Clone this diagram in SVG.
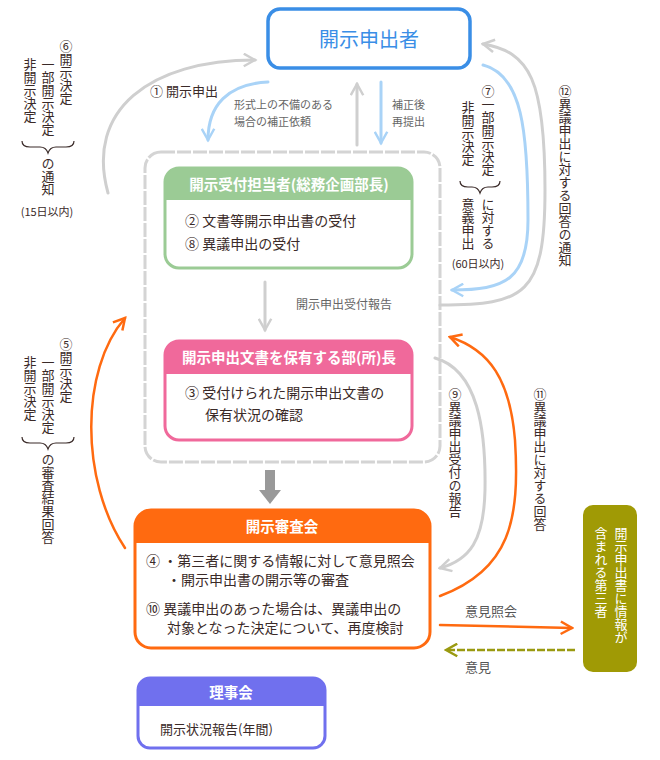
<svg xmlns="http://www.w3.org/2000/svg" width="660" height="760" viewBox="0 0 660 760">
<style>
text{font-family:"Noto Sans CJK JP","Noto Sans",sans-serif;fill:#3a2a28;font-size:13px}
.v{writing-mode:vertical-rl}
.bt{font-size:14px}
.hd{fill:#fff;font-size:14.5px;font-weight:bold}
.sm{fill:#666;font-size:11px}
.g{fill:none;stroke:#cfcfcf;stroke-width:3;stroke-linecap:round}
.b{fill:none;stroke:#a9d3f7;stroke-width:3;stroke-linecap:round}
.o{fill:none;stroke:#ff6a10;stroke-width:2.5;stroke-linecap:round}
.br{fill:none;stroke:#3a2a28;stroke-width:1.2}
</style>
<defs>
<marker id="ag" viewBox="0 0 12 12" refX="10" refY="6" markerWidth="5" markerHeight="5" orient="auto" markerUnits="strokeWidth"><path d="M1,1 L10,6 L1,11" fill="none" stroke="#cfcfcf" stroke-width="2"/></marker>
<marker id="ab" viewBox="0 0 12 12" refX="10" refY="6" markerWidth="5" markerHeight="5" orient="auto" markerUnits="strokeWidth"><path d="M1,1 L10,6 L1,11" fill="none" stroke="#a9d3f7" stroke-width="2"/></marker>
<marker id="ao" viewBox="0 0 12 12" refX="10" refY="6" markerWidth="6" markerHeight="6" orient="auto" markerUnits="strokeWidth"><path d="M1,1 L10,6 L1,11" fill="none" stroke="#ff6a10" stroke-width="2"/></marker>
<marker id="al" viewBox="0 0 12 12" refX="10" refY="6" markerWidth="6" markerHeight="6" orient="auto" markerUnits="strokeWidth"><path d="M1,1 L10,6 L1,11" fill="none" stroke="#9a9a10" stroke-width="2"/></marker>
</defs>

<g id="outer"><rect x="145" y="152" width="295" height="310" rx="16" fill="none" stroke="#d4d4d4" stroke-width="3" stroke-dasharray="14 2"/></g>

<g id="applicant"><rect x="268" y="9" width="202" height="59" rx="12" fill="#fff" stroke="#3a8ee6" stroke-width="3.5"/><text x="369" y="47" text-anchor="middle" style="font-size:20px;fill:#3a8ee6">開示申出者</text></g>

<g id="reception"><rect x="165" y="168" width="247" height="100" rx="14" fill="#fff" stroke="#9bcb95" stroke-width="3"/><path d="M165,200 V182 a14,14 0 0 1 14,-14 H398 a14,14 0 0 1 14,14 V200 Z" fill="#9bcb95"/><text class="hd" x="289" y="190" text-anchor="middle">開示受付担当者(総務企画部長)</text><text class="bt" x="185" y="226">② 文書等開示申出書の受付</text><text class="bt" x="185" y="249">⑧ 異議申出の受付</text></g>

<g id="holder"><rect x="165" y="341" width="247" height="99" rx="14" fill="#fff" stroke="#f0699b" stroke-width="3"/><path d="M165,374 V355 a14,14 0 0 1 14,-14 H398 a14,14 0 0 1 14,14 V374 Z" fill="#f0699b"/><text class="hd" x="289" y="363" text-anchor="middle">開示申出文書を保有する部(所)長</text><text class="bt" x="185" y="398">③ 受付けられた開示申出文書の</text><text class="bt" x="205" y="420">保有状況の確認</text></g>

<g id="council"><rect x="135" y="510" width="295" height="138" rx="16" fill="#fff" stroke="#ff6a10" stroke-width="3"/><path d="M135,543 V526 a16,16 0 0 1 16,-16 H414 a16,16 0 0 1 16,16 V543 Z" fill="#ff6a10"/><text class="hd" x="282" y="532" text-anchor="middle">開示審査会</text><text class="bt" x="146" y="566">④ ・第三者に関する情報に対して意見照会</text><text class="bt" x="167" y="585">・開示申出書の開示等の審査</text><text class="bt" x="146" y="614">⑩ 異議申出のあった場合は、異議申出の</text><text class="bt" x="167" y="633">対象となった決定について、再度検討</text></g>

<g id="board"><rect x="138" y="678" width="187" height="70" rx="12" fill="#fff" stroke="#7070ee" stroke-width="3"/><path d="M138,706 V690 a12,12 0 0 1 12,-12 H313 a12,12 0 0 1 12,12 V706 Z" fill="#7070ee"/><text class="hd" x="231" y="698" text-anchor="middle">理事会</text><text x="160" y="734">開示状況報告(年間)</text></g>

<g id="thirdparty"><rect x="583" y="505" width="54" height="167" rx="10" fill="#a09a05"/><text class="v" x="621" y="527" style="fill:#fff">開示申出書に情報が</text><text class="v" x="601" y="527" style="fill:#fff">含まれる第三者</text></g>

<g id="connectors">
<path class="g" d="M108,193 C85,110 150,60 255,60" marker-end="url(#ag)"/>
<path class="b" d="M268,82 C228,84 208,105 208,140" marker-end="url(#ab)"/>
<path class="g" d="M357,145 V84" marker-end="url(#ag)"/>
<path class="b" d="M381,82 V143" marker-end="url(#ab)"/>
<path class="b" d="M483,65 C522,75 528,130 528,220 C528,280 505,290 452,290" marker-end="url(#ab)"/>
<path class="g" d="M440,305 C525,305 545,295 545,190 C545,80 530,52 483,44" marker-end="url(#ag)"/>
<path class="g" d="M265,282 V330" marker-end="url(#ag)"/>
<rect x="265" y="470" width="10" height="22" fill="#999"/>
<path d="M259,490 H281 L270,504 Z" fill="#999"/>
<path class="g" d="M435,358 C478,370 486,430 485,490 C484,540 470,560 440,568" marker-end="url(#ag)"/>
<path class="o" d="M440,596 C510,570 520,520 515,440 C510,380 490,350 450,337" marker-end="url(#ao)"/>
<path class="o" d="M125,548 C80,480 80,370 125,318" marker-end="url(#ao)"/>
<path class="o" d="M440,625 L572,628" marker-end="url(#ao)"/>
<path d="M575,650 L446,650" fill="none" stroke="#9a9a10" stroke-width="2.5" stroke-dasharray="8 2" marker-end="url(#al)"/>
</g>

<g id="labels">
<text x="150" y="96">① 開示申出</text>
<text class="sm" x="234" y="109">形式上の不備のある</text>
<text class="sm" x="234" y="126">場合の補正依頼</text>
<text class="sm" x="392" y="109">補正後</text>
<text class="sm" x="392" y="126">再提出</text>
<text class="sm" x="296" y="309" style="font-size:12px">開示申出受付報告</text>
<text x="465" y="616" style="fill:#555">意見照会</text>
<text x="465" y="672" style="fill:#555">意見</text>

<text class="v" x="66" y="40">⑥開示決定</text>
<text class="v" x="48" y="58">一部開示決定</text>
<text class="v" x="30" y="58">非開示決定</text>
<path class="br" d="M22,141 q0,6 8,6 h10 q6,0 8,6 q2,-6 8,-6 h10 q8,0 8,-6"/>
<text class="v" x="48" y="157">の通知</text>
<text x="47" y="216" text-anchor="middle" style="font-size:11px">(15日以内)</text>

<text class="v" x="488" y="85">⑦一部開示決定</text>
<text class="v" x="468" y="101">非開示決定</text>
<path class="br" d="M460,181 q0,6 8,6 h4 q6,0 8,6 q2,-6 8,-6 h4 q8,0 8,-6"/>
<text class="v" x="488" y="198">に対する</text>
<text class="v" x="468" y="198">意義申出</text>
<text x="478" y="268" text-anchor="middle" style="font-size:11px">(60日以内)</text>

<text class="v" x="565" y="85">⑫異議申出に対する回答の通知</text>

<text class="v" x="66" y="338">⑤開示決定</text>
<text class="v" x="48" y="356">一部開示決定</text>
<text class="v" x="30" y="356">非開示決定</text>
<path class="br" d="M22,437 q0,6 8,6 h10 q6,0 8,6 q2,-6 8,-6 h10 q8,0 8,-6"/>
<text class="v" x="48" y="453">の審査結果回答</text>

<text class="v" x="455" y="388">⑨異議申出受付の報告</text>
<text class="v" x="540" y="388">⑪異議申出に対する回答</text>
</g>
</svg>
